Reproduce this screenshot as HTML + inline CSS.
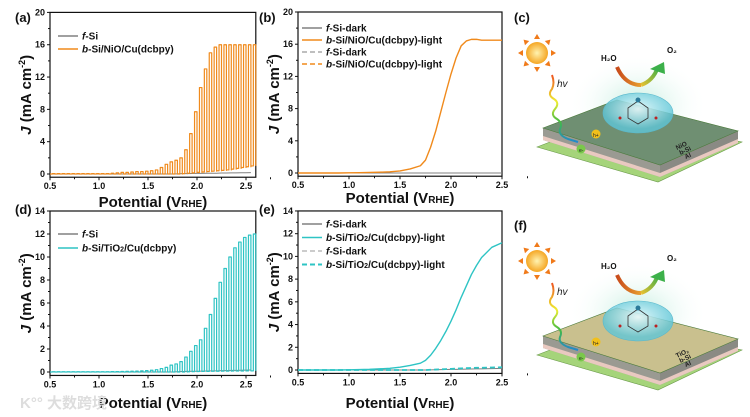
<!DOCTYPE html>
<html><head><meta charset="utf-8"><style>
html,body{margin:0;padding:0;background:#fff;}
svg{display:block;font-family:"Liberation Sans",Arial,sans-serif;}
.tk{font-size:9px;font-weight:bold;fill:#111;}
.ttl{font-size:15px;font-weight:bold;fill:#111;}
.lg{font-size:10px;font-weight:bold;fill:#111;}
.pl{font-size:13px;font-weight:bold;fill:#111;}
</style></head><body>
<svg id="fig" width="750" height="417" viewBox="0 0 750 417">
<defs>
<radialGradient id="sunG"><stop offset="0" stop-color="#fff3b0"/><stop offset="1" stop-color="#f5a623"/></radialGradient>
<radialGradient id="dome" cx="0.5" cy="0.4"><stop offset="0" stop-color="#e8fbff" stop-opacity="0.9"/><stop offset="1" stop-color="#5fc6d8" stop-opacity="0.8"/></radialGradient>
<radialGradient id="glow"><stop offset="0" stop-color="#a8e6d0" stop-opacity="0.7"/><stop offset="1" stop-color="#ffffff" stop-opacity="0"/></radialGradient>
<linearGradient id="wave" x1="0" y1="0" x2="0" y2="1"><stop offset="0" stop-color="#e52" /><stop offset="0.4" stop-color="#ee3"/><stop offset="0.7" stop-color="#4b4"/><stop offset="1" stop-color="#28c"/></linearGradient>
<linearGradient id="arrH" x1="0" y1="0" x2="1" y2="0"><stop offset="0" stop-color="#c84a1a"/><stop offset="1" stop-color="#e8a030"/></linearGradient>
<linearGradient id="arrO" x1="0" y1="1" x2="1" y2="0"><stop offset="0" stop-color="#e8c030"/><stop offset="1" stop-color="#3cb04a"/></linearGradient>
</defs>
<g id="plots"></g>
<g id="illC"></g>
<g id="illF"></g>
<text x="20" y="408" font-size="15" font-weight="bold" fill="#ddd" font-family="'Liberation Sans','Noto Sans CJK SC',sans-serif">K°° 大数跨境</text>
</svg>
<script>
// ---- data ----
const chopPotA = [];
for (let i = 0; i < 42; i++) chopPotA.push(+(0.5 + i * 0.05).toFixed(2));
const lightA = [0.05,0.05,0.05,0.05,0.05,0.05,0.05,0.05,0.05,0.05,0.05,0.05,0.1,0.15,0.2,0.2,0.25,0.3,0.3,0.35,0.4,0.5,0.8,1.2,1.5,1.7,2.0,3.0,5.0,7.7,10.7,13.0,15.0,15.7,16.0,16.0,16.0,16.0,16.0,16.0,16.0,16.0];
const darkA  = [0,0,0,0,0,0,0,0,0,0,0,0,0,0,0,0,0,0,0,0,0,0,0,0,0,0,0,0.05,0.1,0.15,0.2,0.25,0.3,0.35,0.4,0.45,0.5,0.6,0.7,0.8,0.9,1.0];
const fsiA   = [0,0,0,0,0,0,0,0,0,0,0,0,0,0,0,0,0,0,0,0,0,0,0,0,0,0,0.02,0.04,0.05,0.06,0.07,0.08,0.09,0.1,0.1,0.12,0.12,0.14,0.14,0.15,0.16,0.17];
const lightD = [0.02,0.02,0.02,0.02,0.02,0.02,0.02,0.02,0.02,0.02,0.02,0.02,0.03,0.04,0.05,0.06,0.07,0.08,0.1,0.12,0.15,0.2,0.3,0.4,0.6,0.7,0.9,1.3,1.8,2.3,2.8,3.8,5.0,6.4,7.8,9.0,10.0,10.8,11.3,11.7,11.9,12.0];
const darkD  = [0,0,0,0,0,0,0,0,0,0,0,0,0,0,0,0,0,0,0,0,0,0,0,0,0,0,0,0,0.02,0.03,0.04,0.05,0.05,0.06,0.06,0.07,0.07,0.08,0.08,0.09,0.1,0.1];
const lsvPot = [0.5,0.6,0.7,0.8,0.9,1.0,1.1,1.2,1.3,1.4,1.5,1.6,1.7,1.75,1.8,1.85,1.9,1.95,2.0,2.05,2.1,2.15,2.2,2.25,2.3,2.4,2.5];
const lsvB   = [0,0,0,0,0,0.02,0.04,0.07,0.1,0.15,0.25,0.5,0.9,1.6,3.2,5.2,7.6,10.0,12.3,14.3,15.8,16.4,16.6,16.6,16.5,16.5,16.5];
const lsvE   = [0,0,0,0,0,0.02,0.04,0.06,0.1,0.15,0.25,0.4,0.6,0.85,1.3,1.9,2.6,3.4,4.3,5.3,6.4,7.4,8.4,9.2,9.9,10.8,11.2];
const darkB  = [0,0,0,0,0,0,0,0,0,0,0,0,0,0,0,0,0,0,0,0,0,0,0,0,0,0,0];
const darkE  = [0,0,0,0,0,0,0,0,0,0,0,0,0,0,0.01,0.02,0.03,0.04,0.05,0.06,0.07,0.08,0.09,0.1,0.1,0.12,0.14];
const dashE  = [0,0,0,0,0,0,0,0,0,0,0,0,0,0,0.02,0.04,0.06,0.08,0.1,0.12,0.14,0.16,0.18,0.2,0.2,0.22,0.24];
const xTicks = ["0.5","1.0","1.5","2.0","2.5"];
const yTicksAB = [0,4,8,12,16,20];
const yTicksDE = [0,2,4,6,8,10,12,14];

const NS = "http://www.w3.org/2000/svg";
const root = document.getElementById('plots');
function mk(tag, attrs, parent, txt) {
  const e = document.createElementNS(NS, tag);
  for (const k in attrs) e.setAttribute(k, attrs[k]);
  if (txt !== undefined) e.textContent = txt;
  (parent || root).appendChild(e);
  return e;
}
const ORANGE = "#f08a1c", CYAN = "#2ec4c4", GRAY = "#808080";

function panel(cfg) {
  const g = mk('g', {});
  
  
  const X = v => cfg.x0 + (v - 0.5) * cfg.kx;
  const Y = j => cfg.y0 - j * cfg.ky;
  const top = Y(cfg.ymax), bot = Y(cfg.ymin), right = X(cfg.xmax);
  const fr = mk('rect', {x: cfg.x0, y: top, width: right - cfg.x0, height: bot - top, fill: 'none', stroke: '#111', 'stroke-width': 1.2}, g);
  
  
  xTicks.forEach(t => {
    const v = parseFloat(t), x = X(v);
    mk('line', {x1: x, y1: bot, x2: x, y2: bot + 3, stroke: '#111'}, g);
    mk('line', {x1: X(v + 0.25), y1: bot, x2: X(v + 0.25), y2: bot + 2, stroke: '#111'}, g);
    const tl = mk('text', {x: x, y: bot + 12, 'text-anchor': 'middle', class: 'tk'}, g, t);
    
    
  });
  cfg.yTicks.forEach((t, i) => {
    const y = Y(t);
    mk('line', {x1: cfg.x0 - 3, y1: y, x2: cfg.x0, y2: y, stroke: '#111'}, g);
    if (i < cfg.yTicks.length - 1) {
      const ym = Y((t + cfg.yTicks[i + 1]) / 2);
      mk('line', {x1: cfg.x0 - 2, y1: ym, x2: cfg.x0, y2: ym, stroke: '#111'}, g);
    }
    const tl = mk('text', {x: cfg.x0 - 5, y: y + 3, 'text-anchor': 'end', class: 'tk'}, g, String(t));
    
    
  });
  const xt = mk('text', {x: (cfg.x0 + right) / 2, y: cfg.xtY, 'text-anchor': 'middle', class: 'ttl'}, g);
  
  
  xt.innerHTML = 'Potential (V<tspan font-size="10">RHE</tspan>)';
  const yc = (top + bot) / 2;
  const yt = mk('text', {x: 0, y: 0, 'text-anchor': 'middle', class: 'ttl', transform: `translate(${cfg.x0 - 19},${yc}) rotate(-90)`}, g);
  
  
  yt.innerHTML = '<tspan font-style="italic">J</tspan> (mA cm<tspan font-size="9" dy="-6">-2</tspan><tspan dy="6">)</tspan>';
  const pl = mk('text', {x: cfg.labX, y: cfg.labY, class: 'pl'}, g, cfg.label);
  
  
  cfg.legend.forEach((L, i) => {
    const y = cfg.legY + i * cfg.legDy;
    mk('line', {x1: cfg.legX, y1: y, x2: cfg.legX + 20, y2: y, stroke: L.c, 'stroke-width': L.w || 1.5, 'stroke-dasharray': L.dash ? '5,3' : 'none'}, g);
    const t = mk('text', {x: cfg.legX + 24, y: y + 3.5, class: 'lg'}, g);
    
    
    t.innerHTML = L.html;
  });
  return {g, X, Y};
}

function chopPath(X, Y, pots, light, dark) {
  let d = '';
  pots.forEach((p, i) => {
    const a = X(p), m = X(p + 0.025), b = X(p + 0.05);
    d += (i === 0 ? 'M' : 'L') + a + ',' + Y(dark[i]) + 'L' + m + ',' + Y(dark[i]) + 'L' + m + ',' + Y(light[i]) + 'L' + b + ',' + Y(light[i]) + 'L' + b + ',' + Y(dark[i]);
  });
  return d;
}
function linePath(X, Y, xs, ys) {
  return xs.map((x, i) => (i ? 'L' : 'M') + X(x) + ',' + Y(ys[i])).join('');
}
function addPath(g, d, color, w, name, dash) {
  const p = mk('path', {d: d, fill: 'none', stroke: color, 'stroke-width': w, 'stroke-linejoin': 'round', 'stroke-dasharray': dash || 'none'}, g);
  
  
  return p;
}

let P = panel({name: 'panel-a', x0: 50, kx: 98, y0: 174, ky: 8.08, ymax: 20, ymin: -0.4, xmax: 2.6, yTicks: yTicksAB,
  xtY: 207, label: '(a)', labX: 15, labY: 22, legX: 58, legY: 36, legDy: 13,
  legend: [{c: GRAY, html: '<tspan font-style="italic">f</tspan>-Si'}, {c: ORANGE, html: '<tspan font-style="italic">b</tspan>-Si/NiO/Cu(dcbpy)'}]});
addPath(P.g, linePath(P.X, P.Y, chopPotA, fsiA), GRAY, 1, 'series-f-si');
addPath(P.g, chopPath(P.X, P.Y, chopPotA, lightA, darkA), ORANGE, 1.2, 'series-b-si-nio-chopped');

P = panel({name: 'panel-b', x0: 298, kx: 102, y0: 173, ky: 8.05, ymax: 20, ymin: -0.4, xmax: 2.5, yTicks: yTicksAB,
  xtY: 203, label: '(b)', labX: 259, labY: 22, legX: 302, legY: 28, legDy: 12,
  legend: [{c: GRAY, html: '<tspan font-style="italic">f</tspan>-Si-dark'}, {c: ORANGE, html: '<tspan font-style="italic">b</tspan>-Si/NiO/Cu(dcbpy)-light'},
           {c: '#aaa', dash: 1, html: '<tspan font-style="italic">f</tspan>-Si-dark'}, {c: ORANGE, dash: 1, html: '<tspan font-style="italic">b</tspan>-Si/NiO/Cu(dcbpy)-light'}]});
addPath(P.g, linePath(P.X, P.Y, lsvPot, darkB), '#aaa', 1, 'series-f-si-dark-dashed', '5,3');
addPath(P.g, linePath(P.X, P.Y, lsvPot, darkB), ORANGE, 1, 'series-b-si-dark-dashed', '5,3');
addPath(P.g, linePath(P.X, P.Y, lsvPot, darkB), GRAY, 1, 'series-f-si-dark');
addPath(P.g, linePath(P.X, P.Y, lsvPot, lsvB), ORANGE, 1.4, 'series-b-si-nio-light');

P = panel({name: 'panel-d', x0: 50, kx: 98, y0: 372, ky: 11.5, ymax: 14, ymin: -0.3, xmax: 2.6, yTicks: yTicksDE,
  xtY: 408, label: '(d)', labX: 15, labY: 214, legX: 58, legY: 234, legDy: 14,
  legend: [{c: GRAY, html: '<tspan font-style="italic">f</tspan>-Si'}, {c: CYAN, html: '<tspan font-style="italic">b</tspan>-Si/TiO<tspan font-size="7">2</tspan>/Cu(dcbpy)'}]});
addPath(P.g, linePath(P.X, P.Y, chopPotA, fsiA), GRAY, 1, 'series-f-si');
addPath(P.g, chopPath(P.X, P.Y, chopPotA, lightD, darkD), CYAN, 1.2, 'series-b-si-tio2-chopped');

P = panel({name: 'panel-e', x0: 298, kx: 102, y0: 370, ky: 11.36, ymax: 14, ymin: -0.3, xmax: 2.5, yTicks: yTicksDE,
  xtY: 408, label: '(e)', labX: 259, labY: 214, legX: 302, legY: 224, legDy: 13.5,
  legend: [{c: GRAY, html: '<tspan font-style="italic">f</tspan>-Si-dark'}, {c: CYAN, html: '<tspan font-style="italic">b</tspan>-Si/TiO<tspan font-size="7">2</tspan>/Cu(dcbpy)-light'},
           {c: '#bbb', dash: 1, html: '<tspan font-style="italic">f</tspan>-Si-dark'}, {c: CYAN, dash: 1, w: 2, html: '<tspan font-style="italic">b</tspan>-Si/TiO<tspan font-size="7">2</tspan>/Cu(dcbpy)-light'}]});
addPath(P.g, linePath(P.X, P.Y, lsvPot, darkE), GRAY, 1, 'series-f-si-dark');
addPath(P.g, linePath(P.X, P.Y, lsvPot, dashE), CYAN, 1.8, 'series-b-si-tio2-dark-dashed', '5,3');
addPath(P.g, linePath(P.X, P.Y, lsvPot, lsvE), CYAN, 1.4, 'series-b-si-tio2-light');

function schematic(gid, dy, topColor, layerName, label) {
  const g = document.getElementById(gid);
  const S = (tag, a, t) => mk(tag, a, g, t);
  const l = S('text', {x: 514, y: 22 + dy, class: 'pl'}, label);
  
  
  S('ellipse', {cx: 638, cy: 105 + dy, rx: 70, ry: 50, fill: 'url(#glow)'});
  S('polygon', {points: `537,${147+dy} 615,${117+dy} 742,${142+dy} 658,${182+dy}`, fill: '#a5d47a', stroke: '#6a9a4a', 'stroke-width': 0.6});
  S('polygon', {points: `543,${128+dy} 660,${165+dy} 660,${177+dy} 543,${140+dy}`, fill: '#9a9a92'});
  S('polygon', {points: `660,${165+dy} 738,${131+dy} 738,${143+dy} 660,${177+dy}`, fill: '#8a8a84'});
  S('polygon', {points: `543,${136+dy} 660,${173+dy} 738,${139+dy} 738,${143+dy} 660,${177+dy} 543,${140+dy}`, fill: '#e9c9c0'});
  S('polygon', {points: `543,${128+dy} 617,${100+dy} 738,${131+dy} 660,${165+dy}`, fill: topColor, stroke: '#4a7a3a', 'stroke-width': 0.6});
  S('ellipse', {cx: 638, cy: 113 + dy, rx: 35, ry: 20, fill: 'url(#dome)', stroke: '#5ab8cc', 'stroke-width': 0.6});
  S('polygon', {points: `628,${108+dy} 638,${101+dy} 648,${108+dy} 648,${118+dy} 638,${124+dy} 628,${118+dy}`, fill: 'none', stroke: '#333', 'stroke-width': 0.8});
  S('circle', {cx: 620, cy: 118 + dy, r: 1.5, fill: '#b22'});
  S('circle', {cx: 656, cy: 118 + dy, r: 1.5, fill: '#b22'});
  S('circle', {cx: 638, cy: 100 + dy, r: 2.5, fill: '#2a7a9a'});
  S('circle', {cx: 537, cy: 53 + dy, r: 11, fill: 'url(#sunG)'});
  for (let i = 0; i < 8; i++) {
    const a = i * Math.PI / 4, c = Math.cos(a), s = Math.sin(a);
    S('polygon', {points: `${537+14*c-3*s},${53+dy+14*s+3*c} ${537+19*c},${53+dy+19*s} ${537+14*c+3*s},${53+dy+14*s-3*c}`, fill: '#f07a1a'});
  }
  S('path', {d: `M552,${75+dy} q3,8 0,14 q-5,6 2,10 q6,4 1,10 q-5,6 2,10 q6,4 3,10 q-2,6 8,10 l10,3`, fill: 'none', stroke: 'url(#wave)', 'stroke-width': 2});
  S('text', {x: 557, y: 87 + dy, 'font-size': 10, 'font-style': 'italic', fill: '#222'}, 'hv');
  S('circle', {cx: 596, cy: 134 + dy, r: 4.5, fill: '#f2c01a'});
  S('text', {x: 593, y: 137 + dy, 'font-size': 5, fill: '#222'}, 'h+');
  S('circle', {cx: 581, cy: 149 + dy, r: 4.5, fill: '#7ac84a'});
  S('text', {x: 579, y: 152 + dy, 'font-size': 5, fill: '#222'}, 'e-');
  S('path', {d: `M617,${67+dy} q8,18 24,18`, fill: 'none', stroke: 'url(#arrH)', 'stroke-width': 4});
  S('path', {d: `M641,${85+dy} q12,-4 17,-18`, fill: 'none', stroke: 'url(#arrO)', 'stroke-width': 4});
  S('polygon', {points: `650,${69+dy} 664,${62+dy} 665,${74+dy}`, fill: '#3cb04a'});
  S('text', {x: 601, y: 61 + dy, 'font-size': 8, 'font-weight': 'bold', fill: '#111'}, 'H₂O');
  S('text', {x: 667, y: 53 + dy, 'font-size': 8, 'font-weight': 'bold', fill: '#111'}, 'O₂');
  const lt = S('text', {x: 0, y: 0, 'font-size': 6.5, 'font-weight': 'bold', fill: '#222', transform: `translate(677,${150+dy}) rotate(-25)`});
  lt.innerHTML = `<tspan x="0" dy="0">${layerName}</tspan><tspan x="1" dy="6">b-Si</tspan><tspan x="4" dy="6">Al</tspan>`;
}
schematic('illC', 0, '#6f8f72', 'NiO', '(c)');
schematic('illF', 208, '#c9c08e', 'TiO₂', '(f)');
</script>
</body></html>
